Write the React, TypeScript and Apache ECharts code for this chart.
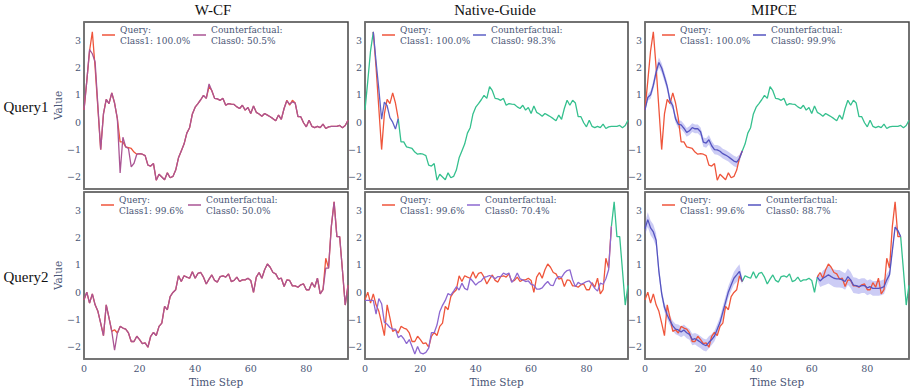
import React, { useEffect, useRef } from "react";
import * as echarts from "echarts";

// ---------------- data ----------------
const Q1 = [
  0.45, 1.5, 2.6, 3.3, 2.0, 0.5, -1.0, 0.3, 0.83, 0.68,
  1.07, 0.7, 0.13, -0.72, -0.72, -0.9, -0.93, -0.96, -1.09, -1.17,
  -1.15, -1.17, -1.22, -1.57, -1.6, -1.51, -2.12, -1.9, -2.0, -2.1,
  -1.85, -2.03, -1.98, -1.75, -1.3, -1.05, -0.8, -0.4, -0.2, 0.3,
  0.55, 0.68, 0.82, 0.98, 0.87, 1.3, 1.15, 0.87, 0.85, 0.8,
  0.87, 0.62, 0.68, 0.66, 0.65, 0.56, 0.5, 0.62, 0.44, 0.54,
  0.32, 0.59, 0.36, 0.3, 0.22, 0.32, 0.26, 0.2, 0.13, 0.05,
  0.26, 0.1, 0.5, 0.8, 0.62, 0.8, 0.7, 0.2, 0.2, -0.02,
  -0.17, 0.07, -0.15, -0.2, -0.15, -0.2, -0.07, -0.23, -0.17, -0.15,
  -0.15, -0.15, -0.12, -0.2, -0.12, 0.07,
];
const Q2 = [
  -0.28, 0.0, -0.4, -0.06, -0.46, -0.7, -1.13, -1.59, -0.46, -0.94,
  -1.43, -1.37, -1.49, -1.25, -1.31, -1.35, -1.49, -1.8, -1.8, -1.61,
  -1.73, -1.88, -1.85, -2.01, -1.61, -1.47, -1.58, -1.25, -1.13, -0.52,
  -0.64, -0.16, -0.01, 0.09, 0.6, 0.39, 0.6, 0.55, 0.51, 0.75,
  0.51, 0.69, 0.72, 0.55, 0.3, 0.48, 0.63, 0.43, 0.37, 0.57,
  0.6, 0.55, 0.67, 0.39, 0.43, 0.55, 0.39, 0.45, 0.45, 0.51,
  0.43, -0.01, 0.55, 0.72, 0.51, 0.82, 1.03, 0.91, 0.72, 0.67,
  0.48, 0.51, 0.21, 0.45, 0.43, 0.23, 0.23, 0.18, 0.27, 0.3,
  0.09, 0.09, 0.35, 0.18, 0.51, -0.06, 0.09, 1.24, 0.88, 2.4,
  3.3, 2.03, 2.03, 0.8, -0.47, 0.25,
];
// W-CF counterfactuals (full length)
const WCF_CF1 = [
  0.45, 1.5, 2.65, 2.5, 2.2, 0.6, -1.0, 0.3, 0.83, 0.68,
  1.07, 0.7, 0.13, -1.85, -0.55, -0.9, -0.96, -1.63, -1.5, -1.17,
  -1.15, -1.17, -1.22, -1.57, -1.6, -1.51, -2.12, -1.9, -2.0, -2.1,
  -1.85, -2.03, -1.98, -1.75, -1.3, -1.05, -0.8, -0.4, -0.2, 0.3,
  0.55, 0.68, 0.82, 0.98, 0.87, 1.4, 1.15, 0.87, 0.85, 0.8,
  0.87, 0.62, 0.68, 0.66, 0.65, 0.56, 0.5, 0.62, 0.44, 0.54,
  0.32, 0.59, 0.36, 0.3, 0.22, 0.32, 0.26, 0.2, 0.13, 0.05,
  0.26, 0.1, 0.5, 0.78, 0.66, 0.74, 0.7, 0.2, 0.2, -0.02,
  -0.17, 0.07, -0.15, -0.2, -0.15, -0.2, -0.07, -0.23, -0.17, -0.15,
  -0.15, -0.15, -0.12, -0.2, -0.12, 0.07,
];
const WCF_CF2 = [
  -0.28, 0.0, -0.4, -0.06, -0.46, -0.7, -1.13, -1.59, -0.46, -0.94,
  -1.43, -2.12, -1.5, -1.25, -1.31, -1.35, -1.49, -1.8, -1.8, -1.61,
  -1.73, -1.88, -1.85, -2.01, -1.61, -1.47, -1.58, -1.25, -1.13, -0.52,
  -0.64, -0.16, -0.01, 0.09, 0.6, 0.39, 0.6, 0.55, 0.51, 0.75,
  0.51, 0.69, 0.72, 0.55, 0.3, 0.48, 0.63, 0.43, 0.37, 0.57,
  0.6, 0.55, 0.67, 0.39, 0.43, 0.55, 0.39, 0.45, 0.45, 0.51,
  0.43, -0.01, 0.55, 0.72, 0.51, 0.82, 1.03, 0.91, 0.72, 0.67,
  0.48, 0.51, 0.21, 0.45, 0.43, 0.23, 0.23, 0.18, 0.27, 0.3,
  0.09, 0.09, 0.35, 0.18, 0.51, -0.06, 0.09, 0.88, 0.88, 2.4,
  3.3, 2.03, 2.03, 0.8, -0.47, 0.25,
];
// Native-Guide counterfactual segments
const NG_CF1_START = 3;
const NG_CF1 = [3.3, 2.2, 1.2, 0.11, 0.73, 0.6, 0.17, 0.0, -0.25, 0.13];
const NG_CF2_START = 0;
const NG_CF2 = [
  -0.3, -0.3, -0.3, -0.3, -0.8, -0.23, -0.42, -1.1, -1.17, -1.29,
  -1.35, -1.35, -1.66, -1.58, -1.7, -1.88, -1.73, -1.98, -2.26, -1.98,
  -2.22, -2.25, -2.2, -2.04, -1.48, -1.48, -1.2, -0.71, -0.48, -0.3,
  -0.05, -0.11, 0.04, 0.2, 0.08, 0.33, 0.14, 0.08, 0.51, 0.39,
  0.26, 0.36, 0.41, 0.54, 0.57, 0.61, 0.57, 0.49, 0.57, 0.57,
  0.7, 0.64, 0.7, 0.36, 0.49, 0.7, 0.49, 0.45, 0.39, 0.41,
  0.29, 0.26, 0.11, 0.11, 0.16, 0.29, 0.39, 0.26, 0.24, 0.49,
  0.57, 0.54, 0.7, 0.79, 0.82, 0.45, 0.2, 0.36, 0.29, 0.33,
  0.39, 0.41, 0.29, 0.14, 0.04, 0.33, 0.29, 0.49, 0.82, 2.4,
];
// MIPCE counterfactual segments (mean and spread)
const MIPCE_CF1_START = 0;
const MIPCE_CF1 = [
  0.45, 0.9, 1.0, 1.35, 1.83, 2.18, 1.98, 1.65, 1.3, 0.78,
  0.6, 0.12, -0.08, -0.1, -0.22, -0.37, -0.31, -0.2, -0.24, -0.24,
  -0.35, -0.73, -0.76, -0.64, -0.86, -1.0, -1.01, -1.06, -1.15, -1.2,
  -1.26, -1.34, -1.42, -1.46, -1.32, -1.05,
];
const MIPCE_SD1 = [
  0.06, 0.12, 0.14, 0.16, 0.18, 0.18, 0.17, 0.17, 0.16, 0.15,
  0.14, 0.14, 0.14, 0.15, 0.15, 0.16, 0.16, 0.16, 0.16, 0.16,
  0.16, 0.17, 0.17, 0.17, 0.17, 0.17, 0.18, 0.18, 0.18, 0.18,
  0.18, 0.19, 0.19, 0.19, 0.14, 0.06,
];
const MIPCE_CF2A_START = 0;
const MIPCE_CF2A = [
  2.32, 2.65, 2.35, 2.2, 1.9, 0.76, -0.05, -0.55, -0.83, -1.04,
  -1.23, -1.35, -1.38, -1.45, -1.38, -1.48, -1.54, -1.73, -1.7, -1.76,
  -1.83, -1.91, -1.95, -1.83, -1.73, -1.6, -1.35, -1.1, -0.73, -0.36,
  0.01, 0.26, 0.51, 0.63, 0.76, 0.39,
];
const MIPCE_SD2A = [
  0.22, 0.27, 0.27, 0.27, 0.24, 0.2, 0.17, 0.16, 0.16, 0.17,
  0.18, 0.19, 0.2, 0.2, 0.2, 0.2, 0.2, 0.21, 0.21, 0.22,
  0.22, 0.22, 0.22, 0.22, 0.2, 0.19, 0.19, 0.2, 0.22, 0.22,
  0.22, 0.22, 0.24, 0.26, 0.26, 0.1,
];
const MIPCE_CF2B_START = 62;
const MIPCE_CF2B = [
  0.55, 0.41, 0.51, 0.57, 0.64, 0.57, 0.51, 0.49, 0.49, 0.45,
  0.39, 0.57, 0.45, 0.26, 0.24, 0.2, 0.24, 0.24, 0.16, 0.2,
  0.14, 0.14, 0.14, 0.16, 0.2, 0.45, 0.64, 1.51, 2.38, 2.25, 2.03,
];
const MIPCE_SD2B = [
  0.1, 0.22, 0.27, 0.3, 0.32, 0.32, 0.32, 0.32, 0.32, 0.3,
  0.3, 0.3, 0.3, 0.29, 0.29, 0.27, 0.27, 0.27, 0.27, 0.27,
  0.27, 0.27, 0.27, 0.27, 0.27, 0.22, 0.17, 0.13, 0.1, 0.08, 0.05,
];

const METHODS = ["W-CF", "Native-Guide", "MIPCE"];
const ROW_LABELS = ["Query1", "Query2"];
const QUERY_LABELS = ["Query:\nClass1: 100.0%", "Query:\nClass1: 99.6%"];
const CF_LABELS = [
  ["Counterfactual:\nClass0: 50.5%", "Counterfactual:\nClass0: 98.3%", "Counterfactual:\nClass0: 99.9%"],
  ["Counterfactual:\nClass0: 50.0%", "Counterfactual:\nClass0: 70.4%", "Counterfactual:\nClass0: 88.7%"],
];
const X_TICKS = [0, 20, 40, 60, 80];
const Y_TICKS = [-2, -1, 0, 1, 2, 3];
const X_MAX = 95;
const Y_MIN = -2.44;
const Y_MAX = 3.66;

// ---------------- layout / style ----------------
const COL_LEFT = [84, 365, 645];
const COL_W = [264, 263, 264];
const ROW_TOP = [22, 192];
const ROW_H = 167;
const TITLE_X = [213, 495, 774];
const Q_LEG_LEFT = [[102, 382, 662], [101, 382, 662]];
const CF_LEG_LEFT = [[193, 473, 753], [188, 467, 748]];

const RED = "#ef553b";
const GREEN = "#35c08e";
const WCF_PURPLE = "#aa5594";
const NG_BLUE = "#5d60c6";
const NG_PURPLE = "#8d68d0";
const MIPCE_BLUE = "#5554c0";
const BAND = "rgba(105,105,225,0.34)";
const SLATE = "#4a5676";
const SERIF = "DejaVu Serif";
const TIMES = "Liberation Serif";
const LW = 1.3;

const pts = (arr: number[], from: number, to: number, offset = 0) => {
  const out: number[][] = [];
  for (let i = from; i <= to; i++) out.push([i, arr[i - offset]]);
  return out;
};

function line(g: number, name: string, data: number[][], color: string, z = 2) {
  return {
    type: "line",
    name,
    xAxisIndex: g,
    yAxisIndex: g,
    data,
    showSymbol: false,
    symbol: "none",
    itemStyle: { color },
    lineStyle: { color, width: LW },
    z,
    silent: true,
  };
}

function band(g: number, mean: number[], sd: number[], start: number) {
  const data = mean.map((m, k) => [start + k, m - sd[k], m + sd[k]]);
  return {
    type: "custom",
    xAxisIndex: g,
    yAxisIndex: g,
    silent: true,
    z: 1,
    data,
    encode: { x: 0, y: [1, 2] },
    renderItem: (params: any, api: any) => {
      if (params.dataIndex !== 0) return null;
      const upper = data.map((d) => api.coord([d[0], d[2]]));
      const lower = data.map((d) => api.coord([d[0], d[1]])).reverse();
      return {
        type: "polygon",
        shape: { points: upper.concat(lower) },
        style: { fill: BAND },
      };
    },
  };
}

const fmtNum = (v: number) => (v < 0 ? "\u2212" + Math.abs(v) : String(v));

function buildOption() {
  const grids: any[] = [];
  const xAxes: any[] = [];
  const yAxes: any[] = [];
  const legends: any[] = [];
  for (let r = 0; r < 2; r++) {
    for (let c = 0; c < 3; c++) {
      grids.push({
        left: COL_LEFT[c],
        top: ROW_TOP[r],
        width: COL_W[c],
        height: ROW_H,
        show: true,
        borderColor: "#444",
        borderWidth: 1.5,
        backgroundColor: "#fff",
      });
      xAxes.push({
        type: "value",
        gridIndex: r * 3 + c,
        min: 0,
        max: X_MAX,
        splitLine: { show: false },
        axisTick: { show: false },
        axisLine: { show: true, onZero: false, lineStyle: { color: "#777", width: 1.5 } },
        axisLabel: {
          show: r === 1,
          customValues: X_TICKS,
          formatter: fmtNum,
          color: SLATE,
          fontFamily: SERIF,
          fontSize: 9.5,
          margin: 4,
        },
        name: r === 1 ? "Time Step" : "",
        nameLocation: "middle",
        nameGap: 17,
        nameTextStyle: { color: SLATE, fontFamily: SERIF, fontSize: 10.5 },
      });
      yAxes.push({
        type: "value",
        gridIndex: r * 3 + c,
        min: Y_MIN,
        max: Y_MAX,
        splitLine: { show: false },
        axisTick: { show: false },
        axisLine: { show: true, onZero: false, lineStyle: { color: "#777", width: 1.5 } },
        axisLabel: {
          customValues: Y_TICKS,
          formatter: fmtNum,
          color: SLATE,
          fontFamily: SERIF,
          fontSize: 9.5,
          margin: 3,
        },
        name: c === 0 ? "Value" : "",
        nameLocation: "middle",
        nameRotate: 90,
        nameGap: 17,
        nameTextStyle: { color: SLATE, fontFamily: SERIF, fontSize: 10.5 },
      });
      const legBase = {
        orient: "horizontal",
        top: ROW_TOP[r] - 1,
        padding: 0,
        icon: "rect",
        itemWidth: 13,
        itemHeight: 1.5,
        selectedMode: false,
        textStyle: {
          color: SLATE,
          fontFamily: SERIF,
          fontSize: 9,
          lineHeight: 11,
          padding: [6, 0, 0, 0],
        },
      };
      legends.push({ ...legBase, left: Q_LEG_LEFT[r][c], data: [QUERY_LABELS[r]] });
      legends.push({ ...legBase, left: CF_LEG_LEFT[r][c], data: [CF_LABELS[r][c]] });
    }
  }

  const series: any[] = [];
  // Row 1
  series.push(line(0, QUERY_LABELS[0], pts(Q1, 0, 95), RED));
  series.push(line(0, CF_LABELS[0][0], pts(WCF_CF1, 0, 95), WCF_PURPLE, 3));
  const ng1End = NG_CF1_START + NG_CF1.length - 1;
  series.push(line(1, "shared-ng1-a", pts(Q1, 0, NG_CF1_START), GREEN));
  series.push(line(1, "shared-ng1-b", pts(Q1, ng1End, 95), GREEN));
  series.push(line(1, QUERY_LABELS[0], pts(Q1, NG_CF1_START, ng1End), RED, 3));
  series.push(line(1, CF_LABELS[0][1], pts(NG_CF1, NG_CF1_START, ng1End, NG_CF1_START), NG_BLUE, 4));
  const m1End = MIPCE_CF1_START + MIPCE_CF1.length - 1;
  series.push(line(2, "shared-m1", pts(Q1, m1End, 95), GREEN));
  series.push(band(2, MIPCE_CF1, MIPCE_SD1, MIPCE_CF1_START));
  series.push(line(2, QUERY_LABELS[0], pts(Q1, MIPCE_CF1_START, m1End), RED, 3));
  series.push(line(2, CF_LABELS[0][2], pts(MIPCE_CF1, MIPCE_CF1_START, m1End, MIPCE_CF1_START), MIPCE_BLUE, 4));

  // Row 2
  series.push(line(3, QUERY_LABELS[1], pts(Q2, 0, 95), RED));
  series.push(line(3, CF_LABELS[1][0], pts(WCF_CF2, 0, 95), WCF_PURPLE, 3));
  const ng2End = NG_CF2_START + NG_CF2.length - 1;
  series.push(line(4, "shared-ng2", pts(Q2, ng2End, 95), GREEN));
  series.push(line(4, QUERY_LABELS[1], pts(Q2, NG_CF2_START, ng2End), RED, 3));
  series.push(line(4, CF_LABELS[1][1], pts(NG_CF2, NG_CF2_START, ng2End, NG_CF2_START), NG_PURPLE, 4));
  const aEnd = MIPCE_CF2A_START + MIPCE_CF2A.length - 1;
  const bEnd = MIPCE_CF2B_START + MIPCE_CF2B.length - 1;
  series.push(line(5, "shared-m2-a", pts(Q2, aEnd, MIPCE_CF2B_START), GREEN));
  series.push(line(5, "shared-m2-b", pts(Q2, bEnd, 95), GREEN));
  series.push(band(5, MIPCE_CF2A, MIPCE_SD2A, MIPCE_CF2A_START));
  series.push(band(5, MIPCE_CF2B, MIPCE_SD2B, MIPCE_CF2B_START));
  series.push(line(5, QUERY_LABELS[1], pts(Q2, MIPCE_CF2A_START, aEnd), RED, 3));
  series.push(line(5, QUERY_LABELS[1] + " ", pts(Q2, MIPCE_CF2B_START, bEnd), RED, 3));
  series.push(line(5, CF_LABELS[1][2], pts(MIPCE_CF2A, MIPCE_CF2A_START, aEnd, MIPCE_CF2A_START), MIPCE_BLUE, 4));
  series.push(line(5, CF_LABELS[1][2], pts(MIPCE_CF2B, MIPCE_CF2B_START, bEnd, MIPCE_CF2B_START), MIPCE_BLUE, 4));

  const graphic: any[] = [];
  METHODS.forEach((m, i) => {
    graphic.push({
      type: "text",
      x: TITLE_X[i],
      y: 10,
      silent: true,
      style: {
        text: m,
        fontFamily: TIMES,
        fontSize: 15,
        fill: "#111",
        align: "center",
        verticalAlign: "middle",
      },
    });
  });
  ROW_LABELS.forEach((t, r) => {
    graphic.push({
      type: "text",
      x: 26,
      y: ROW_TOP[r] + ROW_H / 2 + 1,
      silent: true,
      style: {
        text: t,
        fontFamily: TIMES,
        fontSize: 15,
        fill: "#111",
        align: "center",
        verticalAlign: "middle",
      },
    });
  });

  return {
    animation: false,
    backgroundColor: "#fff",
    grid: grids,
    xAxis: xAxes,
    yAxis: yAxes,
    legend: legends,
    series,
    graphic,
  };
}

export default function App() {
  const ref = useRef<HTMLDivElement>(null);
  useEffect(() => {
    document.body.style.margin = "0";
    if (!ref.current) return;
    const chart = echarts.init(ref.current, undefined, { renderer: "svg" });
    chart.setOption(buildOption() as any);
    return () => chart.dispose();
  }, []);
  return <div ref={ref} style={{ width: 912, height: 392 }} />;
}
